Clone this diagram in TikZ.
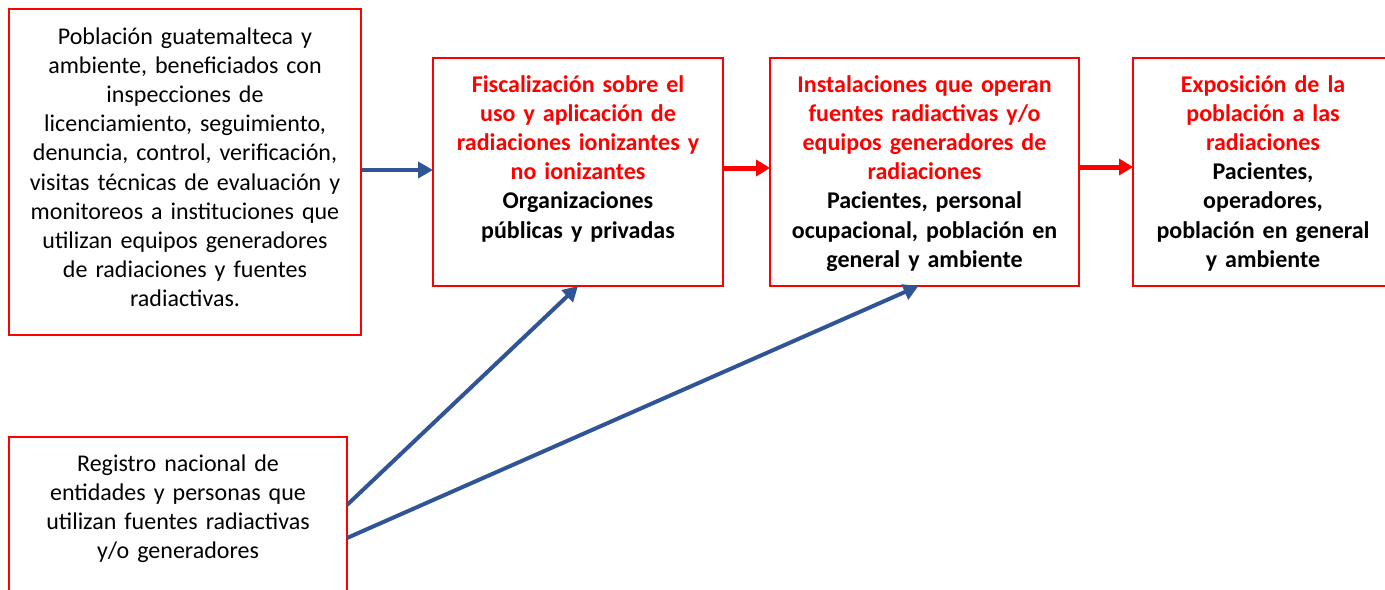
\documentclass[tikz,border=0pt]{standalone}
\usepackage{fontspec}
\setmainfont{Carlito}
\usetikzlibrary{arrows.meta, calc, positioning}
\definecolor{boxRed}{HTML}{FF0000}
\definecolor{flowBlue}{HTML}{2F5597}

\begin{document}
\begin{tikzpicture}[x=0.5pt, y=-0.5pt,
  box/.style={draw=boxRed, line width=1pt, inner sep=0pt, outer sep=0pt},
  txt/.style={anchor=base, align=center, inner sep=0pt,
              font=\fontsize{12pt}{14.6pt}\selectfont},
  head/.style={txt, font=\fontsize{12pt}{14.6pt}\selectfont\bfseries, text=boxRed},
  blueflow/.style={-{Triangle[length=7.5pt,width=8pt]}, line width=2pt, flowBlue},
  redflow/.style={-{Triangle[length=7pt,width=8pt]}, line width=2.5pt, boxRed}]
  \useasboundingbox (0,0) rectangle (1385,589);
  \clip (0,0) rectangle (1385,589);
  % boxes
  \node[box, minimum width=176pt, minimum height=163pt] (pob) at (185,172) {};
  \node[box, minimum width=169pt, minimum height=101.5pt] (reg) at (178,538.5) {};
  \node[box, minimum width=145pt, minimum height=114pt, right=36pt of pob] (fis) {};
  \node[box, minimum width=154.5pt, minimum height=114pt, right=23.5pt of fis] (inst) {};
  \node[box, minimum width=130pt, minimum height=114pt, right=27pt of inst] (expo) {};
  % texts
  \node[txt, text width=170pt] (pob-t) at ([yshift=-17.5pt]pob.north)
    {Población guatemalteca y\\ambiente, beneficiados con\\inspecciones de\\
     licenciamiento, seguimiento,\\denuncia, control, verificación,\\
     visitas técnicas de evaluación y\\monitoreos a instituciones que\\
     utilizan equipos generadores\\de radiaciones y fuentes\\radiactivas.};
  \node[txt, text width=165pt] (reg-t) at ([yshift=-17pt]reg.north)
    {Registro nacional de\\entidades y personas que\\
     utilizan fuentes radiactivas\\y/o generadores};
  \node[head, text width=140pt] (fis-t) at ([yshift=-17pt]fis.north)
    {Fiscalización sobre el\\uso y aplicación de\\radiaciones ionizantes y\\
     no ionizantes\\\color{black}Organizaciones\\públicas y privadas};
  \node[head, text width=150pt] (inst-t) at ([yshift=-17pt]inst.north)
    {Instalaciones que operan\\fuentes radiactivas y/o\\equipos generadores de\\
     radiaciones\\\color{black}Pacientes, personal\\ocupacional, población en\\
     general y ambiente};
  \node[head, text width=125pt] (expo-t) at ([yshift=-17pt]expo.north)
    {Exposición de la\\población a las\\radiaciones\\\color{black}Pacientes,\\
     operadores,\\población en general\\y ambiente};
  % connectors
  \draw[blueflow] (pob.east |- 0,170) -- (fis.west |- 0,170);
  \draw[redflow] (fis.east |- 0,168) -- (inst.west |- 0,168);
  \draw[redflow] (inst.east |- 0,167) -- (expo.west |- 0,167);
  \draw[blueflow] ($(reg.north east)+(0,68)$) -- (fis.south);
  \draw[blueflow] ($(reg.north east)+(0,101)$) -- ($(inst.south)+(-6,0)$);
\end{tikzpicture}
\end{document}
